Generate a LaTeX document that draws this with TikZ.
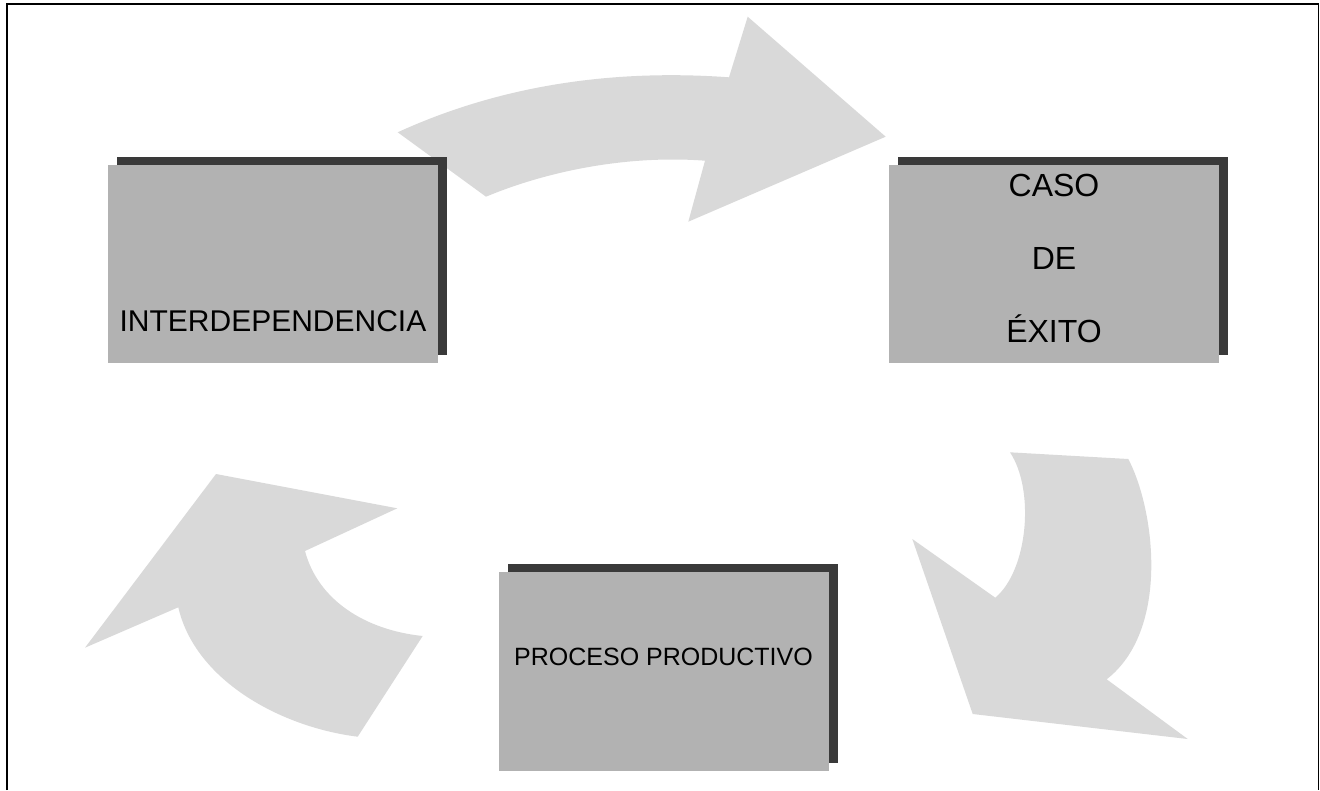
\documentclass[tikz,border=0pt]{standalone}
\usepackage{fontspec}
\setmainfont{Liberation Sans}
\usepackage{tikz}
\usetikzlibrary{shadows}
\definecolor{boxgray}{HTML}{B2B2B2}
\definecolor{shadowgray}{HTML}{3A3A3A}
\definecolor{arrowgray}{HTML}{D9D9D9}

\begin{document}
\begin{tikzpicture}[
    x=1pt, y=-1pt,
    stagebox/.style={fill=boxgray, inner sep=0pt, minimum width=330pt,
      minimum height=198pt, align=center,
      general shadow={fill=shadowgray, shadow xshift=9pt, shadow yshift=8pt}},
    cyclearrow/.style={fill=arrowgray},
  ]
  \useasboundingbox (0,0) rectangle (1320,790);
  \draw[line width=2pt] (6.5,790) -- (6.5,3.5) -- (1318.5,3.5);
  \draw[line width=1.5pt] (1318.5,3.5) -- (1318.5,790);

  % arrows of the cycle
  \fill[cyclearrow] (397.7,132.3) .. controls (490,90) and (600,68) .. (729,77.3)
    -- (747.7,16.7) -- (885.7,136.7) -- (688.3,221.7) -- (705,160.7)
    .. controls (630,155) and (550,170) .. (486,196.7) -- cycle;
  \fill[cyclearrow] (1010,452.3) -- (1128.3,459)
    .. controls (1155,510) and (1170,630) .. (1106.7,679.3)
    -- (1187.7,739) -- (972.7,714) -- (912.3,539) -- (995.3,597.7)
    .. controls (1028,570) and (1035,490) .. (1010,452.3) -- cycle;
  \fill[cyclearrow] (216,474) -- (397.3,508.3) -- (305,551)
    .. controls (318,600) and (365,630) .. (422.7,636)
    -- (357.7,736.7) .. controls (280,727) and (195,680) .. (178.3,607.3)
    -- (85,647.7) -- cycle;

  % stages
  \node[stagebox, font=\fontsize{30}{36}\selectfont, text height=134pt, text depth=0pt]
    (interdep) at (273,264) {INTERDEPENDENCIA};
  \node[stagebox, font=\fontsize{32}{73}\selectfont, text height=156pt, text depth=0pt]
    (exito) at (1054,264) {CASO\\DE\\ÉXITO};
  \node[stagebox, font=\fontsize{25}{30}\selectfont, text height=18pt, text depth=31pt,
    minimum height=199pt] (proceso) at (663.5,671.5) {PROCESO PRODUCTIVO};
\end{tikzpicture}
\end{document}
